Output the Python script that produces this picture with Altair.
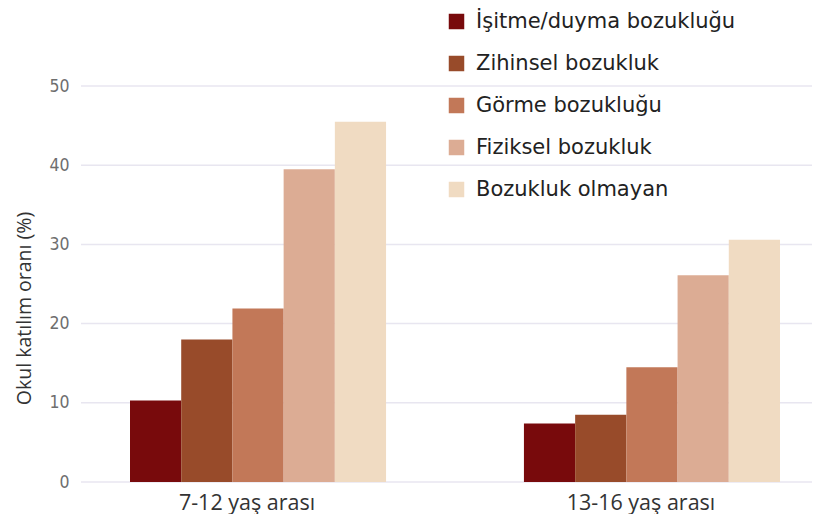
import altair as alt
import pandas as pd

groups = ["7-12 yaş arası", "13-16 yaş arası"]
series = ["İşitme/duyma bozukluğu", "Zihinsel bozukluk", "Görme bozukluğu",
          "Fiziksel bozukluk", "Bozukluk olmayan"]
values_7_12 = [10.3, 18.0, 21.9, 39.5, 45.5]
values_13_16 = [7.4, 8.5, 14.5, 26.1, 30.6]
colors = ["#780a0c", "#984b2a", "#c27858", "#dcac94", "#f0dbc2"]
y_ticks = [0, 10, 20, 30, 40, 50]

rows = []
for g, vals in zip(groups, [values_7_12, values_13_16]):
    for s, v in zip(series, vals):
        rows.append({"grup": g, "seri": s, "deger": v})
df = pd.DataFrame(rows)
grid_df = pd.DataFrame({"v": y_ticks})

W, H = 731, 396
y_scale = alt.Scale(domain=[0, 50], nice=False)


def y_axis():
    return alt.Axis(title="Okul katılım oranı (%)", values=y_ticks,
                    domain=False, ticks=False, grid=False, labelPadding=12,
                    labelFont="Liberation Sans Narrow, DejaVu Sans Condensed, sans-serif",
                    labelFontSize=17.5, labelColor="#6e6e6e",
                    titleFont="Open Sans", titleFontSize=19.5, titleFontWeight="normal",
                    titleColor="#333333", titlePadding=14, titleY=222)


grid = alt.Chart(grid_df).mark_rule(color="#e8e6f0", strokeWidth=1.5).encode(
    y=alt.Y("v:Q", scale=y_scale, axis=y_axis()),
    x=alt.value(0), x2=alt.value(W),
)

bars = alt.Chart(df).mark_bar().encode(
    x=alt.X("grup:N", sort=groups,
            scale=alt.Scale(range=[49, 699], paddingInner=0.35, paddingOuter=0),
            axis=alt.Axis(title=None, labelAngle=0, domain=False, ticks=False, grid=False,
                          labelFont="Open Sans", labelFontSize=21.5, labelColor="#333333",
                          labelPadding=10, labelOffset=-11)),
    xOffset=alt.XOffset("seri:N", sort=series,
                        scale=alt.Scale(paddingInner=0, paddingOuter=0)),
    y=alt.Y("deger:Q", scale=y_scale, axis=y_axis()),
    color=alt.Color("seri:N", sort=series,
                    scale=alt.Scale(domain=series, range=colors),
                    legend=alt.Legend(title=None, orient="none", legendX=365, legendY=-75,
                                      symbolType="square", symbolSize=240,
                                      symbolStrokeWidth=0, symbolOpacity=1,
                                      labelFont="DejaVu Sans", labelFontSize=21,
                                      labelColor="#222222", labelOffset=9,
                                      rowPadding=20, labelLimit=400)),
)

chart = alt.layer(grid, bars).properties(
    width=W, height=H,
    autosize=alt.AutoSizeParams(type="none"),
    padding={"left": 73, "top": 78, "right": 0, "bottom": 32},
).configure_view(stroke=None)

chart.save("out.html", embed_options={"renderer": "svg", "actions": False})
